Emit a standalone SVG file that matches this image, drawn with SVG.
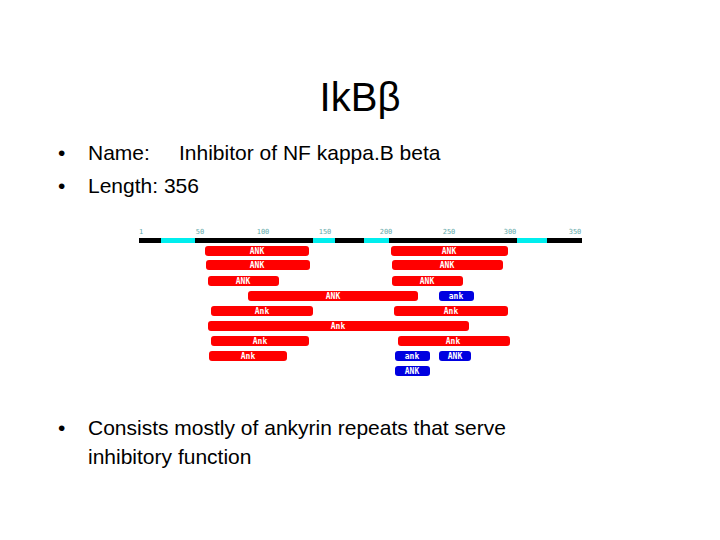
<svg xmlns="http://www.w3.org/2000/svg" width="720" height="540" viewBox="0 0 720 540">
<style>
.t{font-family:"Liberation Sans",Arial,sans-serif;fill:#000}
.b{font-size:21px}
.r{fill:#f00}
.u{fill:#0000e0}
.l{font-family:"DejaVu Sans Mono",monospace;font-size:8px;fill:#fff;text-anchor:middle;font-weight:bold}
.k{font-family:"DejaVu Sans Mono",monospace;font-size:7px;fill:#6aa;text-anchor:middle}
</style>
<rect width="720" height="540" fill="#fff"/>
<text class="t" x="360" y="111" font-size="40" text-anchor="middle">IkBβ</text>
<g id="text">
<text class="t b" x="58" y="160">•</text><text class="t b" x="88" y="160">Name:</text><text class="t b" x="179" y="160">Inhibitor of NF kappa.B beta</text>
<text class="t b" x="58" y="193">•</text><text class="t b" x="88" y="193">Length: 356</text>
<text class="t b" x="58" y="435">•</text><text class="t b" x="88" y="435">Consists mostly of ankyrin repeats that serve</text>
<text class="t b" x="88" y="464">inhibitory function</text>
</g>
<g id="ruler">
<rect x="139" y="238" width="443" height="5" fill="#000"/>
<rect x="161" y="238" width="34" height="5" fill="#0ee"/>
<rect x="313" y="238" width="22" height="5" fill="#0ee"/>
<rect x="364" y="238" width="25" height="5" fill="#0ee"/>
<rect x="517" y="238" width="30" height="5" fill="#0ee"/>
<text class="k" x="141" y="234">1</text><text class="k" x="200" y="234">50</text><text class="k" x="263" y="234">100</text><text class="k" x="325" y="234">150</text><text class="k" x="386" y="234">200</text><text class="k" x="449" y="234">250</text><text class="k" x="510" y="234">300</text><text class="k" x="575" y="234">350</text>
</g>
<g id="domains">
<rect class="r" x="205" y="246" width="104" height="10" rx="3"/><text class="l" x="257" y="254">ANK</text>
<rect class="r" x="391" y="246" width="117" height="10" rx="3"/><text class="l" x="449" y="254">ANK</text>
<rect class="r" x="206" y="260" width="104" height="10" rx="3"/><text class="l" x="257" y="268">ANK</text>
<rect class="r" x="392" y="260" width="111" height="10" rx="3"/><text class="l" x="447" y="268">ANK</text>
<rect class="r" x="208" y="276" width="71" height="10" rx="3"/><text class="l" x="243" y="284">ANK</text>
<rect class="r" x="392" y="276" width="71" height="10" rx="3"/><text class="l" x="427" y="284">ANK</text>
<rect class="r" x="248" y="291" width="170" height="10" rx="3"/><text class="l" x="333" y="299">ANK</text>
<rect class="u" x="439" y="291" width="35" height="10" rx="3"/><text class="l" x="456" y="299">ank</text>
<rect class="r" x="211" y="306" width="102" height="10" rx="3"/><text class="l" x="262" y="314">Ank</text>
<rect class="r" x="394" y="306" width="114" height="10" rx="3"/><text class="l" x="451" y="314">Ank</text>
<rect class="r" x="208" y="321" width="261" height="10" rx="3"/><text class="l" x="338" y="329">Ank</text>
<rect class="r" x="211" y="336" width="98" height="10" rx="3"/><text class="l" x="260" y="344">Ank</text>
<rect class="r" x="398" y="336" width="112" height="10" rx="3"/><text class="l" x="453" y="344">Ank</text>
<rect class="r" x="209" y="351" width="78" height="10" rx="3"/><text class="l" x="248" y="359">Ank</text>
<rect class="u" x="395" y="351" width="35" height="10" rx="3"/><text class="l" x="412" y="359">ank</text>
<rect class="u" x="439" y="351" width="32" height="10" rx="3"/><text class="l" x="455" y="359">ANK</text>
<rect class="u" x="395" y="366" width="35" height="10" rx="3"/><text class="l" x="412" y="374">ANK</text>
</g>
</svg>
